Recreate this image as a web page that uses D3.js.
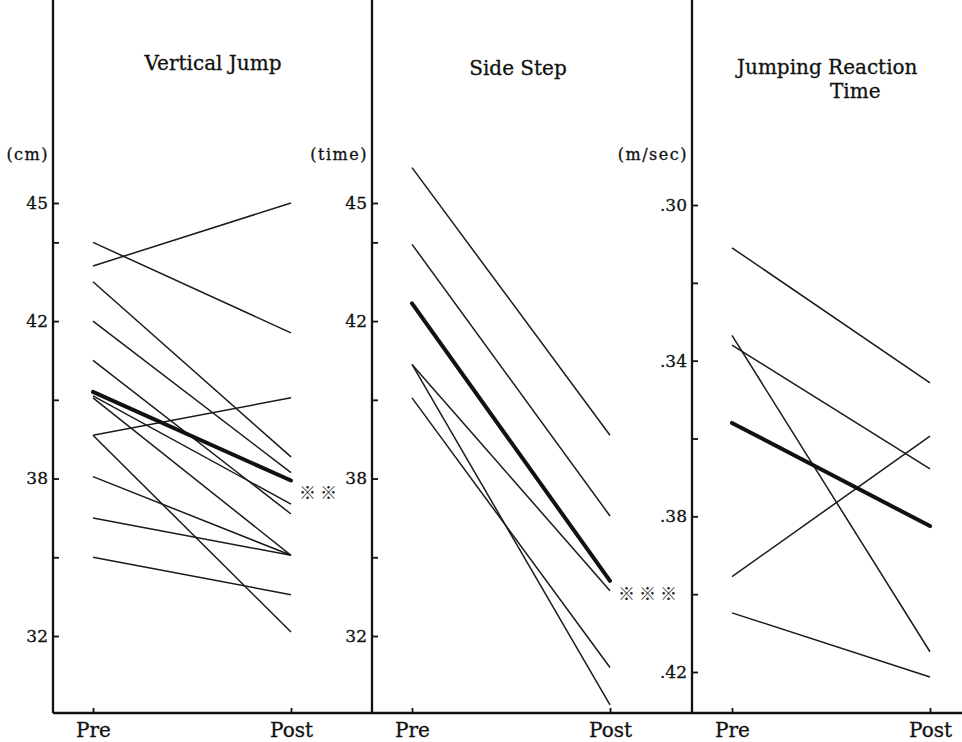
<!DOCTYPE html>
<html>
<head>
<meta charset="utf-8">
<style>
  body { margin: 0; background: #fff; }
  svg { display: block; }
  text { font-family: "DejaVu Serif", serif; fill: #111; stroke: #111; stroke-width: 0.3px; }
  .title { font-size: 20px; }
  .unit { font-size: 16px; letter-spacing: 1.5px; }
  .axis path { display: none; }
  .axis line { stroke: #111; stroke-width: 1.8px; }
  .y.axis text { font-size: 17px; fill: #111; font-family: "DejaVu Serif", serif; }
  .x.axis text { font-size: 20px; fill: #111; font-family: "DejaVu Serif", serif; }
  .frame { stroke: #111; stroke-width: 2.3px; fill: none; }
  .subject { stroke: #1a1a1a; stroke-width: 1.5px; fill: none; }
  .mean { stroke: #111; stroke-width: 4px; fill: none; stroke-linecap: round; }
  .mark { font-family: "Noto Sans CJK JP", sans-serif; font-size: 17px; letter-spacing: 4px; fill: #222; stroke: none; }
</style>
</head>
<body>
<script src="https://cdn.jsdelivr.net/npm/d3@7"></script>
<script>
// x categories
var phases = ["Pre", "Post"];

// Vertical Jump (cm), one entry per subject
var jumpPre  = [43.4, 44.0, 43.0, 42.0, 41.0, 40.1, 40.05, 39.1, 39.1, 38.05, 37.0, 36.0];
var jumpPost = [45.0, 41.7, 38.55, 38.15, 37.1, 37.35, 36.05, 40.05, 34.1, 36.05, 36.05, 35.05];
var jumpMean = [40.2, 37.95];
var jumpTicks = [45, 44, 42, 40, 38, 36, 34];
var jumpTickLabels = ["45", "", "42", "", "38", "", "32"];

// Side Step (time)
var stepPre  = [45.9, 43.95, 40.9, 40.9, 40.05];
var stepPost = [39.1, 37.05, 35.15, 32.25, 33.2];
var stepMean = [42.45, 35.4];
var stepTicks = [45, 44, 42, 40, 38, 36, 34];
var stepTickLabels = ["45", "", "42", "", "38", "", "32"];

// Jumping Reaction Time (m/sec)
var reactPre  = [0.311, 0.3335, 0.336, 0.3955, 0.4048];
var reactPost = [0.3457, 0.4148, 0.3678, 0.3594, 0.4213];
var reactMean = [0.356, 0.3825];
var reactTicks = [0.30, 0.32, 0.34, 0.36, 0.38, 0.40, 0.42];
var reactTickLabels = [".30", "", ".34", "", ".38", "", ".42"];

var titles = [["Vertical Jump"], ["Side Step"], ["Jumping Reaction", "Time"]];
var units = ["(cm)", "(time)", "(m/sec)"];
var marks = ["※※", "※※※", ""];

var panels = [
  { pre: jumpPre, post: jumpPost, mean: jumpMean, ticks: jumpTicks, labels: jumpTickLabels, domain: [45, 34] },
  { pre: stepPre, post: stepPost, mean: stepMean, ticks: stepTicks, labels: stepTickLabels, domain: [45, 34] },
  { pre: reactPre, post: reactPost, mean: reactMean, ticks: reactTicks, labels: reactTickLabels, domain: [0.30, 0.42] }
];

// layout
var width = 962, height = 742;
var panelX = [53, 372, 692];
var baseY = 713;
var yRanges = [[203, 636], [203, 636], [205, 672]];
var titlePos = [
  [{ x: 213, y: 70, anchor: "middle" }],
  [{ x: 518, y: 75, anchor: "middle" }],
  [{ x: 737, y: 74, anchor: "start" }, { x: 830, y: 98, anchor: "start" }]
];

var svg = d3.select("body").append("svg")
    .attr("width", width)
    .attr("height", height);

// bottom baseline
svg.append("line")
    .attr("class", "frame")
    .attr("x1", panelX[0]).attr("x2", width)
    .attr("y1", baseY).attr("y2", baseY);

panels.forEach(function(p, i) {
  var x0 = panelX[i];
  var x = d3.scalePoint()
      .domain(phases)
      .range([x0 + 40, x0 + 238]);
  var y = d3.scaleLinear()
      .domain(p.domain)
      .range(yRanges[i]);

  // panel left line
  svg.append("line")
      .attr("class", "frame")
      .attr("x1", x0).attr("x2", x0)
      .attr("y1", 0).attr("y2", baseY);

  var yAxis = d3.axisLeft(y)
      .tickValues(p.ticks)
      .tickFormat(function(d, k) { return p.labels[k]; })
      .tickSize(-6)
      .tickPadding(5);
  svg.append("g")
      .attr("class", "y axis")
      .attr("transform", "translate(" + x0 + ",0)")
      .call(yAxis);

  var xAxis = d3.axisBottom(x)
      .tickSize(-5)
      .tickPadding(10);
  svg.append("g")
      .attr("class", "x axis")
      .attr("transform", "translate(0," + baseY + ")")
      .call(xAxis);

  // title
  titles[i].forEach(function(t, k) {
    var pos = titlePos[i][k];
    svg.append("text")
        .attr("class", "title")
        .attr("x", pos.x)
        .attr("y", pos.y)
        .attr("text-anchor", pos.anchor)
        .text(t);
  });

  // unit label
  svg.append("text")
      .attr("class", "unit")
      .attr("x", x0 - 4)
      .attr("y", 160)
      .attr("text-anchor", "end")
      .text(units[i]);

  var line = d3.line()
      .x(function(d, k) { return x(phases[k]); })
      .y(function(d) { return y(d); });

  svg.append("g").selectAll("path")
      .data(d3.zip(p.pre, p.post))
    .enter().append("path")
      .attr("class", "subject")
      .attr("d", line);

  svg.append("path")
      .datum(p.mean)
      .attr("class", "mean")
      .attr("d", line);

  if (marks[i]) {
    svg.append("text")
        .attr("class", "mark")
        .attr("x", x("Post") + 8)
        .attr("y", y(p.mean[1]) + 13)
        .attr("dy", "0.35em")
        .text(marks[i]);
  }
});
</script>
</body>
</html>
